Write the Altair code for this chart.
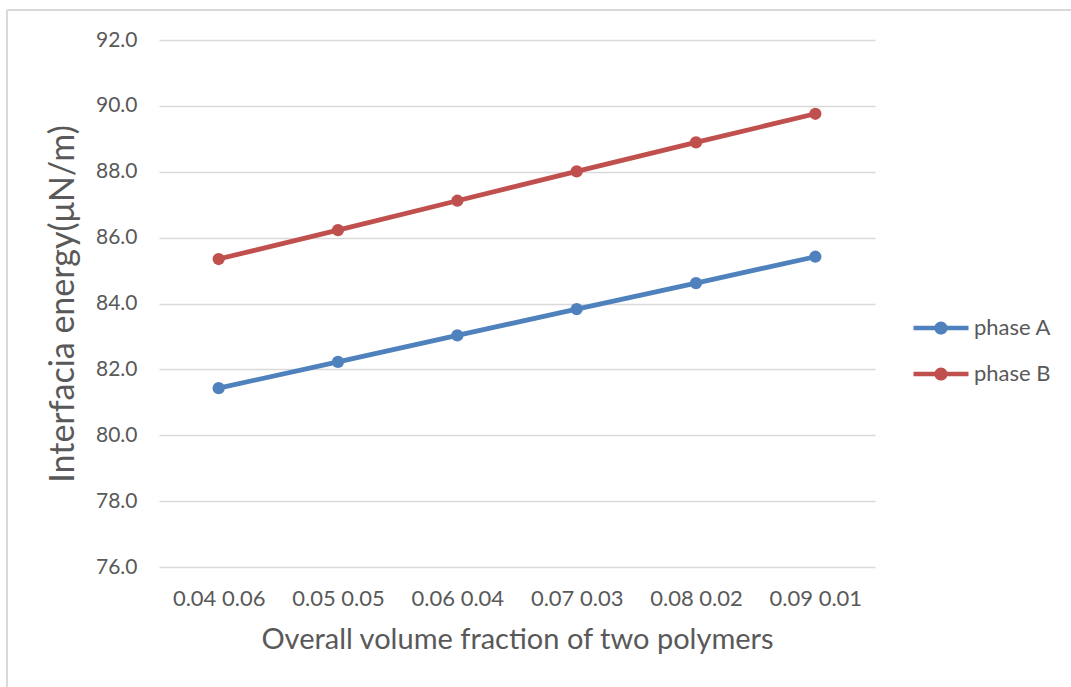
import altair as alt
import pandas as pd

categories = ["0.04 0.06", "0.05 0.05", "0.06 0.04", "0.07 0.03", "0.08 0.02", "0.09 0.01"]
phase_a = [81.43, 82.23, 83.03, 83.83, 84.62, 85.42]
phase_b = [85.35, 86.23, 87.12, 88.01, 88.89, 89.76]
series_names = ["phase A", "phase B"]
series_colors = ["#4F81BD", "#C0504D"]

rows = []
for c, a, b in zip(categories, phase_a, phase_b):
    rows.append({"cat": c, "series": "phase A", "value": a})
    rows.append({"cat": c, "series": "phase B", "value": b})
df = pd.DataFrame(rows)

FONT = "Lato"
TXT = "#595959"

legend_path = ("M-2,-0.16 L2,-0.16 L2,0.16 L-2,0.16 Z "
               "M-0.48,0 A0.48,0.48 0 1,1 0.48,0 A0.48,0.48 0 1,1 -0.48,0 Z")

color = alt.Color(
    "series:N",
    scale=alt.Scale(domain=series_names, range=series_colors),
    legend=alt.Legend(
        title=None,
        orient="none",
        legendX=768,
        legendY=274,
        symbolType=legend_path,
        symbolSize=756,
        symbolStrokeWidth=0,
        symbolOpacity=1,
        labelFont=FONT,
        labelFontSize=22,
        labelColor=TXT,
        labelOffset=19,
        rowPadding=21,
    ),
)

x = alt.X(
    "cat:N",
    sort=categories,
    scale=alt.Scale(type="point", padding=0.5),
    axis=alt.Axis(
        title="Overall volume fraction of two polymers",
        titleFont=FONT, titleFontSize=29, titleFontWeight="normal", titleColor=TXT,
        titlePadding=16,
        labelFont=FONT, labelFontSize=22, labelColor=TXT, labelAngle=0,
        labelPadding=21,
        domain=False, ticks=False, grid=False,
    ),
)
y = alt.Y(
    "value:Q",
    scale=alt.Scale(domain=[76, 92], nice=False, zero=False),
    axis=alt.Axis(
        title="Interfacia energy(μN/m)",
        titleFont=FONT, titleFontSize=34, titleFontWeight="normal", titleColor=TXT,
        titlePadding=15,
        values=list(range(76, 93, 2)), format=".1f",
        labelFont=FONT, labelFontSize=21, labelColor=TXT, labelPadding=22,
        domain=False, ticks=False, grid=True, gridColor="#D9D9D9", gridWidth=1.3,
    ),
)

base = alt.Chart(df)
lines = base.mark_line(strokeWidth=4.8).encode(x=x, y=y, color=color)
points = base.mark_point(filled=True, size=150, opacity=1).encode(x=x, y=y, color=color)

border_top = alt.Chart(pd.DataFrame({"a": [0]})).mark_rule(color="#D9D9D9", strokeWidth=2, clip=False).encode(
    x=alt.value(-152), x2=alt.value(960), y=alt.value(-30))
border_left = alt.Chart(pd.DataFrame({"a": [0]})).mark_rule(color="#D9D9D9", strokeWidth=2, clip=False).encode(
    x=alt.value(-152), y=alt.value(-30), y2=alt.value(700))

chart = alt.layer(border_top, border_left, lines, points).properties(
    width=716, height=527,
    autosize=alt.AutoSizeParams(type="none"),
    padding={"left": 159, "top": 40, "right": 196, "bottom": 120},
    background="white",
).configure_view(stroke=None)

chart.save("out.html", embed_options={"renderer": "svg", "actions": False})
